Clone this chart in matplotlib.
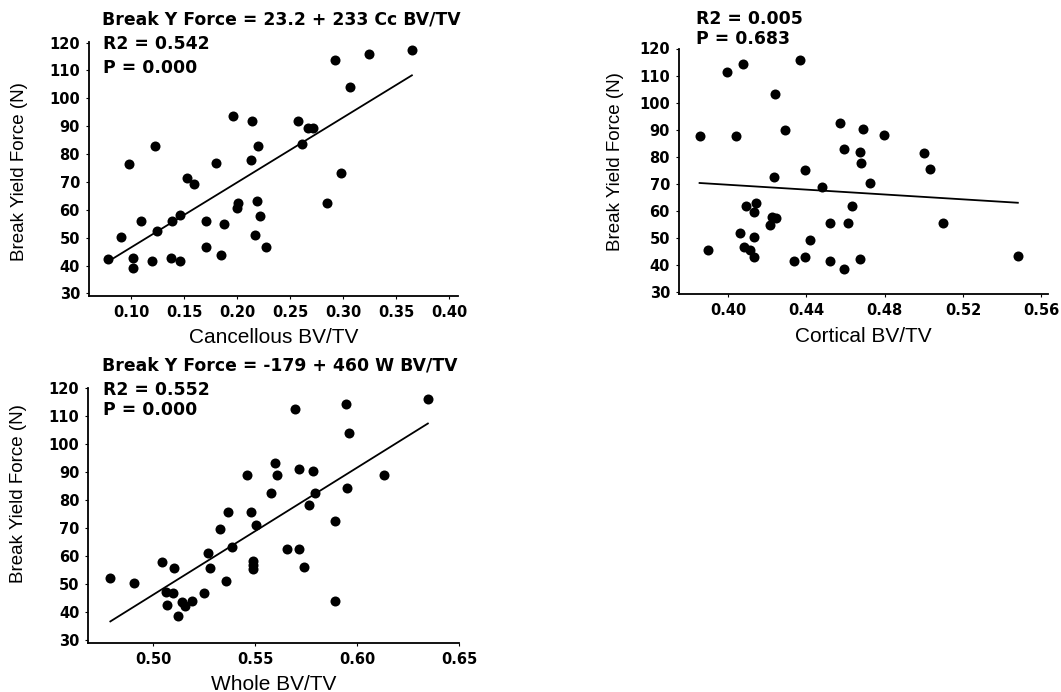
import numpy as np
import matplotlib
matplotlib.use("Agg")
import matplotlib.pyplot as plt
from matplotlib.ticker import FormatStrFormatter

# ---------------- data ----------------
cc_x = [0.1965, 0.214, 0.258, 0.267, 0.272, 0.292, 0.325, 0.365, 0.307,
        0.123, 0.098, 0.220, 0.261, 0.180, 0.213, 0.153, 0.159, 0.298, 0.285,
        0.201, 0.200, 0.219, 0.222, 0.109, 0.139, 0.146, 0.171, 0.188, 0.125,
        0.091, 0.217, 0.171, 0.227, 0.185, 0.078, 0.102, 0.1195, 0.138, 0.146,
        0.102]
cc_y = [93.8, 92.0, 91.7, 89.4, 89.4, 113.6, 116.0, 117.3, 104.2,
        83.0, 76.5, 83.0, 83.6, 76.7, 78.0, 71.5, 69.4, 73.1, 62.6,
        62.4, 60.8, 63.0, 57.9, 56.0, 56.0, 58.0, 56.0, 55.1, 52.4,
        50.2, 50.9, 46.7, 46.7, 43.8, 42.3, 42.9, 41.6, 42.9, 41.6,
        39.0]
cc_fit = (23.2, 233.0)  # intercept, slope

ct_x = [0.3997, 0.4077, 0.4366, 0.424, 0.3855, 0.404, 0.429, 0.457, 0.469, 0.4795,
        0.4592, 0.4673, 0.468, 0.500, 0.503, 0.4235, 0.4395, 0.448, 0.4724, 0.4633,
        0.409, 0.4145, 0.4133, 0.4225, 0.4245, 0.4215, 0.452, 0.4613, 0.510, 0.406,
        0.4133, 0.4417, 0.3898, 0.408, 0.411, 0.4133, 0.4335, 0.4395, 0.452, 0.4673,
        0.4592, 0.548]
ct_y = [111.4, 114.3, 115.7, 103.1, 87.7, 87.7, 89.8, 92.3, 90.1, 88.0,
        82.7, 81.8, 77.5, 81.2, 75.3, 72.3, 75.0, 68.8, 70.1, 61.8,
        61.8, 62.7, 59.6, 57.5, 57.3, 54.6, 55.3, 55.3, 55.5, 51.6,
        50.1, 49.3, 45.6, 46.6, 45.6, 42.7, 41.3, 42.9, 41.3, 42.3,
        38.6, 43.1]
ct_fit = (87.6, -45.0)

wh_x = [0.5695, 0.5947, 0.6346, 0.5958, 0.5598, 0.5462, 0.5607, 0.5713, 0.5784, 0.6133,
        0.5575, 0.5792, 0.595, 0.5764, 0.5365, 0.5481, 0.5889,
        0.5506, 0.5328, 0.5384, 0.5268, 0.5654, 0.5716, 0.5042, 0.5102, 0.5276, 0.549,
        0.549, 0.549, 0.5737, 0.479, 0.4904, 0.5357, 0.5065, 0.5097, 0.5247, 0.5069,
        0.5142, 0.519, 0.5155, 0.5121, 0.589]
wh_y = [112.2, 114.3, 115.8, 103.8, 93.0, 88.8, 88.8, 90.9, 90.2, 88.8,
        82.3, 82.3, 84.1, 78.1, 75.7, 75.7, 72.4,
        71.0, 69.5, 63.1, 60.9, 62.5, 62.5, 57.9, 55.8, 55.8, 58.3,
        56.7, 55.3, 55.9, 52.2, 50.2, 51.1, 47.3, 46.9, 46.9, 42.5,
        43.7, 44.0, 42.2, 38.7, 44.0]
wh_fit = (-180.3, 453.0)

y_label = "Break Yield Force (N)"
x_labels = ["Cancellous BV/TV", "Cortical BV/TV", "Whole BV/TV"]
eq_texts = ["Break Y Force = 23.2 + 233 Cc BV/TV", None, "Break Y Force = -179 + 460 W BV/TV"]
r2_texts = ["R2 = 0.542", "R2 = 0.005", "R2 = 0.552"]
p_texts = ["P = 0.000", "P = 0.683", "P = 0.000"]

# ---------------- figure ----------------
W, H = 1061, 692
fig = plt.figure(figsize=(W / 100, H / 100), dpi=100)
plt.rcParams['font.family'] = ['Liberation Sans', 'DejaVu Sans']

def px_axes(l, r, t, b):
    return fig.add_axes([l / W, 1 - b / H, (r - l) / W, (b - t) / H])

def fx(x):
    return x / W

def fy(y):
    return 1 - y / H

panels = [
    dict(rect=(89, 458, 42, 296), x=cc_x, y=cc_y, fit=cc_fit, xlim=(0.0604, 0.4085),
         ylim=(29.1, 120.2), xstep=0.05, xticks=(0.10, 0.40), ylab=(28, 172),
         eq=(102, 20), r2=(103, 44), p=(103, 68)),
    dict(rect=(679, 1048, 48.5, 294.3), x=ct_x, y=ct_y, fit=ct_fit, xlim=(0.375, 0.5634),
         ylim=(29.08, 120.0), xstep=0.04, xticks=(0.40, 0.56), ylab=(624, 161.5),
         eq=None, r2=(696, 18.5), p=(696, 38.5)),
    dict(rect=(88.3, 459.3, 387.5, 642.7), x=wh_x, y=wh_y, fit=wh_fit, xlim=(0.4682, 0.648),
         ylim=(29.11, 120.0), xstep=0.05, xticks=(0.50, 0.65), ylab=(27, 494),
         eq=(102, 366), r2=(103, 390), p=(103, 410)),
]

ann_font = dict(fontsize=12.4, fontweight='bold', va='center', ha='left', family='DejaVu Sans')

for i, pnl in enumerate(panels):
    l, r, t, b = pnl['rect']
    ax = px_axes(l, r, t, b)
    ax.scatter(pnl['x'], pnl['y'], s=52, color='black', linewidths=0, zorder=3)
    xs = np.array([min(pnl['x']), max(pnl['x'])])
    a0, a1 = pnl['fit']
    ax.plot(xs, a0 + a1 * xs, color='black', lw=1.3, zorder=2)
    ax.set_xlim(*pnl['xlim'])
    ax.set_ylim(*pnl['ylim'])
    ax.set_xticks(np.arange(pnl['xticks'][0], pnl['xticks'][1] + 1e-9, pnl['xstep']))
    ax.set_yticks(np.arange(30, 121, 10))
    ax.xaxis.set_major_formatter(FormatStrFormatter('%.2f'))
    ax.yaxis.set_major_formatter(FormatStrFormatter('%d'))
    for s in ['top', 'right']:
        ax.spines[s].set_visible(False)
    for s in ['left', 'bottom']:
        ax.spines[s].set_linewidth(1.3)
        ax.spines[s].set_color('black')
    ax.tick_params(direction='out', length=2.5, width=0.8, pad=4, colors='black')
    for lab in ax.get_xticklabels() + ax.get_yticklabels():
        lab.set_fontweight('bold')
        lab.set_fontsize(10.5)
        lab.set_family('DejaVu Sans')
    ax.set_xlabel(x_labels[i], fontsize=15, labelpad=6)
    ax.set_ylabel(y_label, fontsize=13.5)
    ax.yaxis.set_label_coords(fx(pnl['ylab'][0]), fy(pnl['ylab'][1]), transform=fig.transFigure)
    ax.patch.set_alpha(0)
    if pnl['eq'] is not None:
        fig.text(fx(pnl['eq'][0]), fy(pnl['eq'][1]), eq_texts[i], **ann_font)
    fig.text(fx(pnl['r2'][0]), fy(pnl['r2'][1]), r2_texts[i], **ann_font)
    fig.text(fx(pnl['p'][0]), fy(pnl['p'][1]), p_texts[i], **ann_font)

fig.savefig("out.png", dpi=100, facecolor='white')
